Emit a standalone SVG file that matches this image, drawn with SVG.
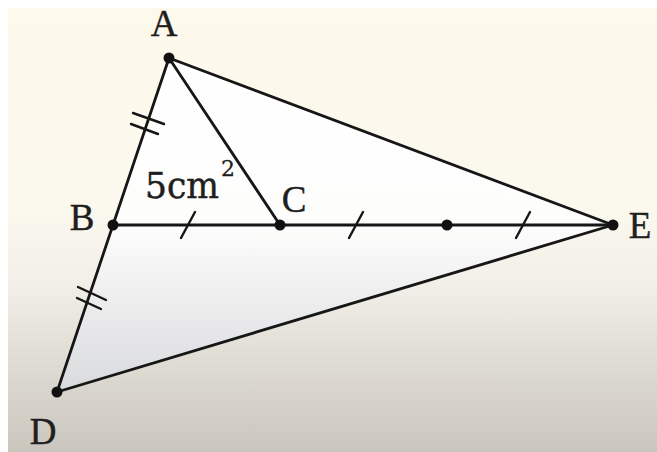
<svg xmlns="http://www.w3.org/2000/svg" width="657" height="452" viewBox="0 0 657 452">
<defs>
<linearGradient id="bg" x1="0" y1="8" x2="0" y2="452" gradientUnits="userSpaceOnUse">
<stop offset="0" stop-color="#fdf9eb"/>
<stop offset="0.45" stop-color="#fbf8ee"/>
<stop offset="0.62" stop-color="#f1efe7"/>
<stop offset="1" stop-color="#cac6bd"/>
</linearGradient>
<linearGradient id="tri" x1="0" y1="58" x2="0" y2="392" gradientUnits="userSpaceOnUse">
<stop offset="0" stop-color="#ffffff"/>
<stop offset="0.5" stop-color="#fdfdfc"/>
<stop offset="1" stop-color="#d9dadd"/>
</linearGradient>
<style>
.ln{stroke:#161616;stroke-width:2.8;fill:none;stroke-linecap:round}
.tk{stroke:#161616;stroke-width:2.4;fill:none;stroke-linecap:round}
.pt{fill:#111111}
.lb{font-family:"Liberation Serif","DejaVu Serif",serif;font-size:37px;fill:#1f1f1f;stroke:#1f1f1f;stroke-width:0.4;text-anchor:middle}
.ar{font-family:"DejaVu Serif","Liberation Serif",serif;font-size:35px;fill:#1f1f1f;stroke:#1f1f1f;stroke-width:0.5}
.sup{font-family:"DejaVu Serif","Liberation Serif",serif;font-size:22px;fill:#1f1f1f;stroke:#1f1f1f;stroke-width:0.3}
</style>
</defs>
<rect x="0" y="0" width="657" height="452" fill="#ffffff"/>
<rect x="8" y="8" width="649" height="444" fill="url(#bg)"/>
<polygon points="169,58 613,225 57,392" fill="url(#tri)"/>
<g id="connectors">
<line class="ln" x1="169" y1="58" x2="57" y2="392"/>
<line class="ln" x1="169" y1="58" x2="613" y2="225"/>
<line class="ln" x1="57" y1="392" x2="613" y2="225"/>
<line class="ln" x1="113" y1="225" x2="613" y2="225"/>
<line class="ln" x1="169" y1="58" x2="280" y2="225"/>
</g>
<g id="ticks">
<line class="tk" x1="181" y1="238" x2="195" y2="212"/>
<line class="tk" x1="349" y1="238" x2="363" y2="212"/>
<line class="tk" x1="516" y1="238" x2="530" y2="212"/>
<line class="tk" x1="133" y1="113" x2="164" y2="124"/>
<line class="tk" x1="131" y1="124" x2="158" y2="134"/>
<line class="tk" x1="78" y1="287" x2="106" y2="300"/>
<line class="tk" x1="77" y1="298" x2="101" y2="309"/>
</g>
<g id="node-A"><circle class="pt" cx="169" cy="58" r="5.5"/><text class="lb" x="164" y="36">A</text></g>
<g id="node-B"><circle class="pt" cx="113" cy="225" r="5.5"/><text class="lb" x="82" y="230">B</text></g>
<g id="node-C"><circle class="pt" cx="280" cy="225" r="5.5"/><text class="lb" x="294" y="212">C</text></g>
<g id="node-M"><circle class="pt" cx="447" cy="225" r="5.5"/></g>
<g id="node-E"><circle class="pt" cx="613" cy="225" r="5.5"/><text class="lb" x="640" y="238">E</text></g>
<g id="node-D"><circle class="pt" cx="57" cy="392" r="5.5"/><text class="lb" x="43" y="444">D</text></g>
<g id="area-label"><text class="ar" x="145" y="198" textLength="74" lengthAdjust="spacingAndGlyphs">5cm</text><text class="sup" x="221" y="176">2</text></g>
</svg>
